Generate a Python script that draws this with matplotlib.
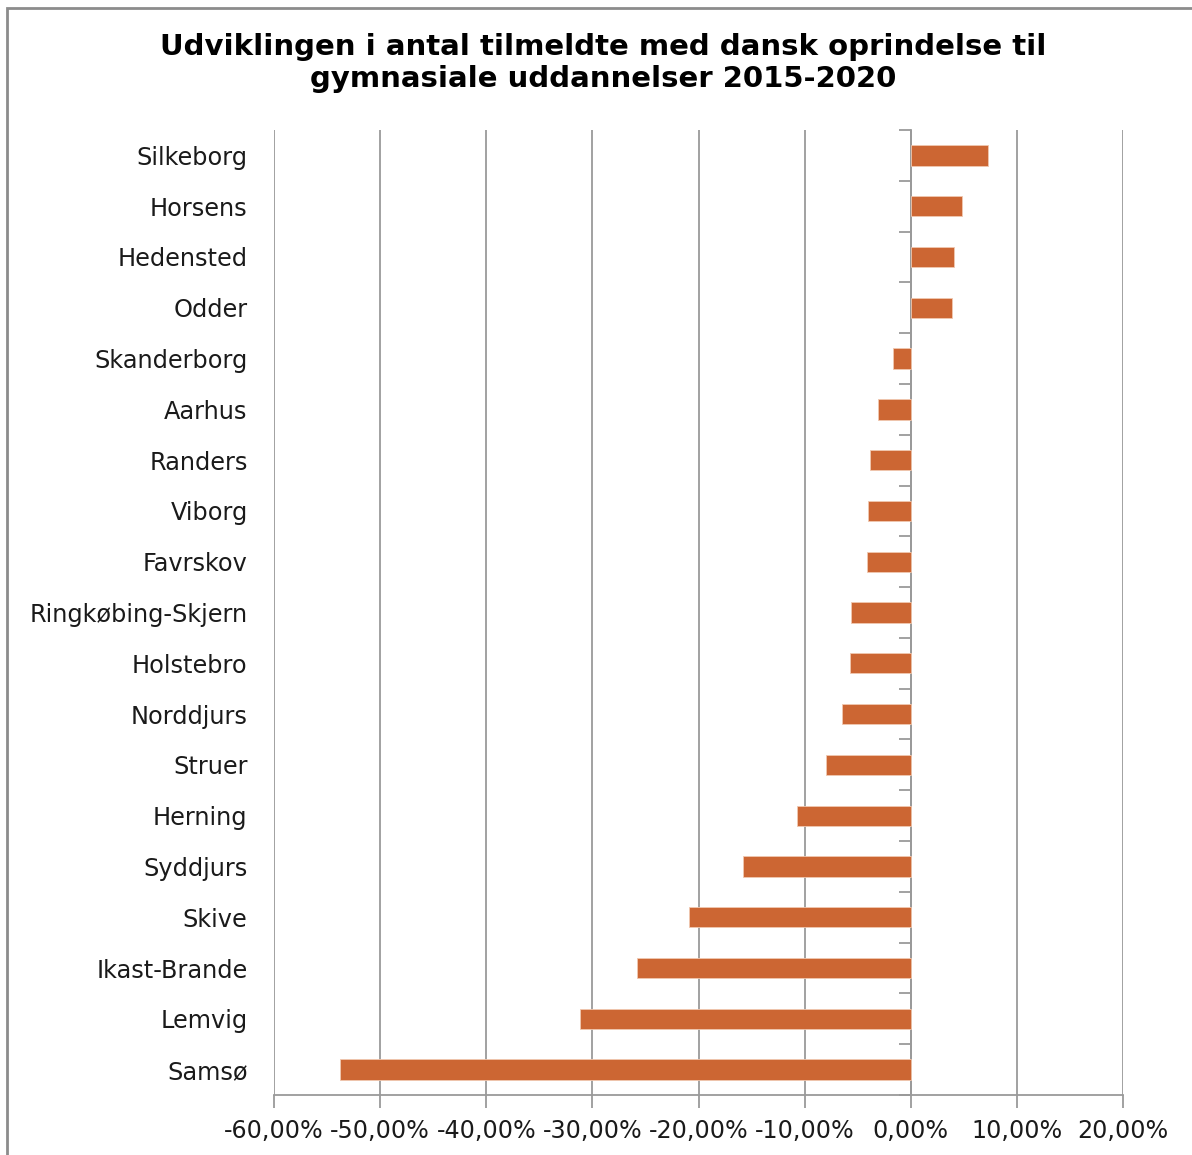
import numpy as np
import matplotlib.pyplot as plt
from matplotlib.patches import Rectangle
from matplotlib.ticker import FuncFormatter, FixedLocator

# Data
kommuner = ['Silkeborg', 'Horsens', 'Hedensted', 'Odder', 'Skanderborg', 'Aarhus',
            'Randers', 'Viborg', 'Favrskov', 'Ringkøbing-Skjern', 'Holstebro',
            'Norddjurs', 'Struer', 'Herning', 'Syddjurs', 'Skive', 'Ikast-Brande',
            'Lemvig', 'Samsø']
udvikling = [7.3, 4.8, 4.05, 3.9, -1.7, -3.1, -3.8, -4.0, -4.1, -5.6, -5.7,
             -6.5, -8.0, -10.7, -15.8, -20.9, -25.8, -31.2, -53.8]
x_ticks = [-60, -50, -40, -30, -20, -10, 0, 10, 20]

W, H = 1192, 1155
fig = plt.figure(figsize=(W / 100, H / 100), dpi=100)
ax = fig.add_axes([274 / W, 1 - 1095 / H, (1123 - 274) / W, (1095 - 130) / H])

n = len(kommuner)
ypos = np.arange(n)[::-1]
ax.barh(ypos, udvikling, height=0.4, color='#CC6633', edgecolor='#F0C8B0',
        linewidth=0.6, zorder=3)

ax.set_xlim(-60, 20)
ax.set_ylim(-0.5, n - 0.5)
ax.xaxis.set_major_locator(FixedLocator(x_ticks))
ax.xaxis.set_major_formatter(FuncFormatter(lambda v, p: f'{v:.2f}%'.replace('.', ',')))
ax.grid(axis='x', color='#9A9A9A', linewidth=1.3, zorder=0)
ax.set_yticks(ypos)
ax.set_yticklabels(kommuner, fontsize=17.3, color='#1A1A1A')
ax.tick_params(axis='y', length=0, pad=19)
ax.tick_params(axis='x', length=9, width=1.3, color='#9A9A9A', labelsize=17.2,
               labelcolor='#1A1A1A', pad=8)

for s in ['top', 'right', 'left']:
    ax.spines[s].set_visible(False)
ax.spines['bottom'].set_color('#9A9A9A')
ax.spines['bottom'].set_linewidth(1.3)

# category axis through zero with tick marks between bars
sec = ax.secondary_yaxis(60 / 80)
sec.set_alignment('left')
sec.set_yticks(np.arange(-0.5, n, 1.0))
sec.set_yticklabels([])
sec.tick_params(length=9, width=1.3, color='#9A9A9A', direction='out')
sec.spines['left'].set_color('#9A9A9A')
sec.spines['left'].set_linewidth(1.3)

fig.text(603 / W, 1 - 47 / H, 'Udviklingen i antal tilmeldte med dansk oprindelse til',
         ha='center', va='center', fontsize=21, fontweight='bold')
fig.text(603 / W, 1 - 79 / H, 'gymnasiale uddannelser 2015-2020',
         ha='center', va='center', fontsize=21, fontweight='bold')

fig.patches.append(Rectangle((7 / W, -0.1), 1.2, 1.1 - 8 / H, transform=fig.transFigure,
                             fill=False, edgecolor='#8C8C8C', linewidth=2))

fig.savefig('out.png', dpi=100)
